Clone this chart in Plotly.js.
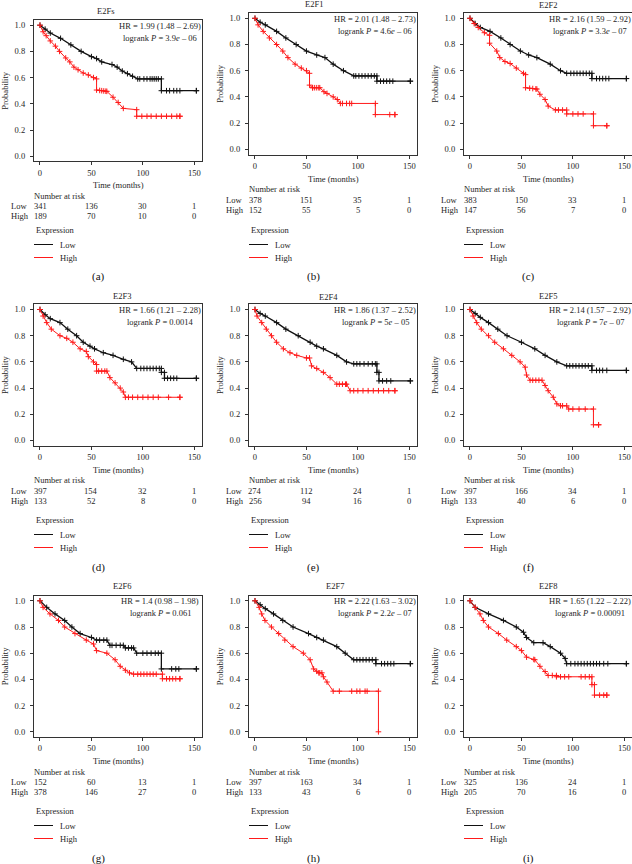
<!DOCTYPE html>
<html><head><meta charset="utf-8">
<script src="https://cdn.plot.ly/plotly-3.0.1.min.js"></script>
<style>html,body{margin:0;padding:0;background:#fff}#chart{width:632px;height:864px}</style>
</head><body><div id="chart"></div>
<script>
// ---------- data ----------
const panelNames = ['E2Fs','E2F1','E2F2','E2F3','E2F4','E2F5','E2F6','E2F7','E2F8'];
const panelLetters = ['(a)','(b)','(c)','(d)','(e)','(f)','(g)','(h)','(i)'];
const hrValues = ['1.99 (1.48 – 2.69)','2.01 (1.48 – 2.73)','2.16 (1.59 – 2.92)','1.66 (1.21 – 2.28)','1.86 (1.37 – 2.52)','2.14 (1.57 – 2.92)','1.4 (0.98 – 1.98)','2.22 (1.63 – 3.02)','1.65 (1.22 – 2.22)'];
const pValues = ['3.9<i>e</i> – 06','4.6<i>e</i> – 06','3.3<i>e</i> – 07','0.0014','5<i>e</i> – 05','7<i>e</i> – 07','0.061','2.2<i>e</i> – 07','0.00091'];
const riskTimes = [0,50,100,150];
const riskLow = [[341,136,30,1],[378,151,35,1],[383,150,33,1],[397,154,32,1],[274,112,24,1],[397,166,34,1],[152,60,13,1],[397,163,34,1],[325,136,24,1]];
const riskHigh = [[189,70,10,0],[152,55,5,0],[147,56,7,0],[133,52,8,0],[256,94,16,0],[133,40,6,0],[378,146,27,0],[133,43,6,0],[205,70,16,0]];
const xTicks = [0,50,100,150];
const yTicks = [0,0.2,0.4,0.6,0.8,1.0];

// survival curves: times (months), survival probability, censor times
const aLowT = [0,5,10,20,30,40,50,55,60,70,75,80,85,90,95,118,118,152];
const aLowS = [1,0.97,0.94,0.90,0.85,0.80,0.76,0.745,0.72,0.70,0.68,0.65,0.63,0.61,0.59,0.59,0.50,0.50];
const aLowC = [97,101,104,107,109,111,113,115,123,126,130,133,136,152];
const aHighT = [0,3,6,10,15,19,25,29,33,37,42,47,52,55,55,65,71,76,81,94,94,136];
const aHighS = [1,0.95,0.92,0.88,0.84,0.80,0.75,0.72,0.68,0.66,0.635,0.62,0.60,0.59,0.505,0.495,0.45,0.41,0.365,0.355,0.305,0.305];
const aHighC = [58,60,62,64,99,104,108,113,118,123,128,133,136];

const bLowT = [0,5,10,21,30,40,50,60,68,76,86,96,118.5,118.5,151];
const bLowS = [1,0.97,0.95,0.90,0.85,0.80,0.75,0.72,0.70,0.65,0.60,0.56,0.56,0.52,0.52];
const bLowC = [98,101,104,107,110,113,116,122,125,128,131,134,151];
const bHighT = [0,3,8,14,21,27,32,39,45,50,53,53,56,63,67,76,80,83,117,117,136];
const bHighS = [1,0.95,0.90,0.85,0.80,0.75,0.70,0.65,0.62,0.60,0.58,0.49,0.47,0.47,0.44,0.40,0.38,0.35,0.35,0.265,0.265];
const bHighC = [56,58,60,62,70,85,89,92,94,131,136];

const cLowT = [0,5,10,19.5,30,39,49,57,65,78,88,94,118.5,118.5,152];
const cLowS = [1,0.96,0.93,0.90,0.85,0.80,0.75,0.72,0.70,0.65,0.60,0.58,0.58,0.54,0.54];
const cLowC = [98,101,104,107,110,113,116,123,126,129,132,135,152];
const cHighT = [0,4,8,14,19,19,26,29,34,39,45,52,54,54,65,68,73,76,83,94,94,120,120,133];
const cHighS = [1,0.96,0.93,0.89,0.87,0.81,0.75,0.70,0.67,0.655,0.62,0.58,0.57,0.47,0.46,0.42,0.38,0.33,0.30,0.30,0.27,0.27,0.18,0.18];
const cHighC = [58,61,64,86,90,100,105,110,133];

const dLowT = [0,5,10,19.4,27,35.6,42,48.6,53,61.5,71,81,89,94,118,118,121,121,152];
const dLowS = [1,0.96,0.93,0.90,0.85,0.80,0.75,0.72,0.70,0.67,0.65,0.62,0.60,0.55,0.55,0.52,0.52,0.475,0.475];
const dLowC = [98,101,104,107,110,113,116,124,127,130,133,152];
const dHighT = [0,3,6.5,11,19.4,26,32,39,45,47,52,55,55,65,68,73,78,81,83,136];
const dHighS = [1,0.95,0.90,0.85,0.80,0.78,0.75,0.70,0.68,0.64,0.60,0.58,0.53,0.53,0.48,0.44,0.40,0.37,0.33,0.33];
const dHighC = [57,60,63,86,90,95,100,105,110,115,125,136];

const eLowT = [0,5,10,21,30,42,53.6,60,66.5,79.5,89,96,118.5,118.5,120.5,120.5,151];
const eLowS = [1,0.97,0.95,0.90,0.85,0.80,0.75,0.72,0.70,0.65,0.60,0.585,0.585,0.52,0.52,0.455,0.455];
const eLowC = [99,102,106,110,114,117,124,128,132,151];
const eHighT = [0,2,6.5,11,16,21,27.6,34,40.6,50,53,55,60,66.5,73,79.5,89,92.5,136];
const eHighS = [1,0.95,0.90,0.85,0.80,0.75,0.70,0.67,0.65,0.63,0.63,0.57,0.55,0.52,0.48,0.43,0.43,0.38,0.38];
const eHighC = [82,85,88,96,100,105,110,115,120,125,130,136];

const fLowT = [0,5,10,18,27,36,50,63,73,84.4,94,118.5,118.5,152];
const fLowS = [1,0.97,0.94,0.90,0.85,0.80,0.75,0.70,0.65,0.60,0.57,0.57,0.535,0.535];
const fLowC = [97,100,103,106,109,112,115,123,126,129,133,152];
const fHighT = [0,3,6.5,11,18,24,32.5,40.6,48.7,53.6,55,58.4,70,73,76,81,84.4,88,94,96,120,120,125];
const fHighS = [1,0.95,0.90,0.85,0.80,0.75,0.70,0.65,0.60,0.56,0.50,0.46,0.46,0.42,0.38,0.33,0.28,0.265,0.265,0.24,0.24,0.12,0.12];
const fHighC = [61,64,67,90,100,106,112,125];

const gLowT = [0,6.5,14.6,24,31,39,50,55,65,68,81,83,91,94,118,118,152];
const gLowS = [1,0.95,0.90,0.85,0.80,0.75,0.72,0.70,0.70,0.66,0.66,0.64,0.64,0.60,0.60,0.48,0.48];
const gLowC = [58,62,70,74,78,86,89,100,104,108,112,115,128,132,135,152];
const gHighT = [0,3,9.7,18,24,34,45,52,55,65,73,78,83,87,91,119,119,136];
const gHighS = [1,0.95,0.90,0.85,0.80,0.75,0.70,0.67,0.62,0.60,0.55,0.50,0.47,0.45,0.44,0.44,0.405,0.405];
const gHighC = [95,98,101,104,107,110,113,123,126,129,132,136];

const hLowT = [0,5,10,18,27,37,52,60,66.5,79.5,87.7,96,117.5,117.5,151];
const hLowS = [1,0.97,0.94,0.90,0.85,0.80,0.75,0.72,0.70,0.65,0.60,0.55,0.55,0.52,0.52];
const hLowC = [99,102,105,108,111,114,123,126,129,132,135,151];
const hHighT = [0,4,6.5,9.7,16,23,29,37,47,53.6,57,62,65,66.5,70,76,120,120];
const hHighS = [1,0.95,0.90,0.85,0.80,0.75,0.70,0.65,0.60,0.55,0.48,0.45,0.45,0.42,0.38,0.31,0.31,0];
const hHighC = [60,63,82,94,99,102,107,109];

const iLowT = [0,5,18,32.5,45,52,55,62,71,78,88,92.5,94,152];
const iLowS = [1,0.95,0.90,0.85,0.80,0.76,0.72,0.68,0.68,0.65,0.60,0.56,0.52,0.52];
const iLowC = [98,102,105,108,111,114,117,120,123,126,130,134,152];
const iHighT = [0,5,9.7,13,18,27.6,35.7,45,50,55,63,68,73,76,84,84,118.5,118.5,121,121,133];
const iHighS = [1,0.95,0.90,0.85,0.80,0.75,0.70,0.65,0.62,0.57,0.55,0.50,0.46,0.43,0.43,0.42,0.42,0.36,0.36,0.28,0.28];
const iHighC = [62,80,88,92,96,108,112,116,126,130,133];

const curves = [
  [aLowT,aLowS,aLowC,aHighT,aHighS,aHighC],
  [bLowT,bLowS,bLowC,bHighT,bHighS,bHighC],
  [cLowT,cLowS,cLowC,cHighT,cHighS,cHighC],
  [dLowT,dLowS,dLowC,dHighT,dHighS,dHighC],
  [eLowT,eLowS,eLowC,eHighT,eHighS,eHighC],
  [fLowT,fLowS,fLowC,fHighT,fHighS,fHighC],
  [gLowT,gLowS,gLowC,gHighT,gHighS,gHighC],
  [hLowT,hLowS,hLowC,hHighT,hHighS,hHighC],
  [iLowT,iLowS,iLowC,iHighT,iHighS,iHighC]
];

// ---------- layout geometry (pixels) ----------
const W = 632, H = 864;
const colX0 = [40, 255, 470];             // pixel of t=0
const rowY1 = [[25.2,18.3,18.3],[309.5,309.5,309.5],[600.8,600.8,600.8]]; // pixel of S=1
const legendY = [229.5, 520, 811];
const titlePos = [[105,11],[314,4],[548,5],[122,296],[328,297],[548,296],[122,586],[335,586],[548,586]];
const PXM = 154.3/150;  // px per month
const SPAN = 131;       // px per unit probability
const XR = [-6, 157], YR = [-0.04, 1.04];
const FONT = 'Liberation Serif, Times New Roman, serif';
const TXT = '#262626';
const LOWC = '#111111', HIGHC = '#ff1a1a';

function px(x){return x/W;}
function py(y){return 1 - y/H;}
function stepAt(T,S,c){
  let i = 0;
  for (let k=0;k<T.length;k++){ if (T[k] <= c) i = k; }
  if (i >= T.length-1) return S[S.length-1];
  const t0=T[i], t1=T[i+1];
  if (t1===t0) return S[i+1];
  return S[i] + (S[i+1]-S[i])*(c-t0)/(t1-t0);
}

const traces = [], annotations = [], shapes = [];
const layout = {
  width: W, height: H, margin:{l:0,r:0,t:0,b:0},
  paper_bgcolor:'#fff', plot_bgcolor:'#fff', showlegend:false,
  font:{family:FONT, size:8.5, color:TXT}
};

function ann(text,x,y,o){
  annotations.push(Object.assign({text:text, x:px(x), y:py(y), xref:'paper', yref:'paper',
    showarrow:false, xanchor:'center', yanchor:'middle', font:{family:FONT,size:8.5,color:TXT}}, o||{}));
}

for (let p=0;p<9;p++){
  const col = p%3, row = Math.floor(p/3);
  const x0 = colX0[col], y1 = rowY1[row][col];
  const L = x0 + XR[0]*PXM, R = x0 + XR[1]*PXM;
  const T = y1 - (YR[1]-1)*SPAN, B = y1 + (1-YR[0])*SPAN;
  const idx = p+1, sfx = idx===1 ? '' : String(idx);
  const common = {showline:true, mirror:true, linecolor:'#333', linewidth:1, zeroline:false, showgrid:false,
    ticks:'outside', ticklen:3, tickwidth:1, tickcolor:'#333', tickfont:{family:FONT,size:8.5,color:TXT}, fixedrange:true};
  layout['xaxis'+sfx] = Object.assign({}, common, {domain:[px(L),px(R)], range:XR, anchor:'y'+sfx,
    tickmode:'array', tickvals:xTicks, ticktext:xTicks.map(String)});
  layout['yaxis'+sfx] = Object.assign({}, common, {domain:[py(B),py(T)], range:YR, anchor:'x'+sfx,
    tickmode:'array', tickvals:yTicks, ticktext:yTicks.map(v=>v.toFixed(1)), ticklabelstandoff:3});

  const [lt,ls,lc,ht,hs,hc] = curves[p];
  const mk = (color)=>({symbol:'cross-thin-open', size:4, color:color, line:{color:color,width:1}});
  traces.push({x:lt, y:ls, xaxis:'x'+sfx, yaxis:'y'+sfx, mode:'lines+markers', line:{color:LOWC,width:1.3}, marker:mk(LOWC), hoverinfo:'skip'});
  traces.push({x:ht, y:hs, xaxis:'x'+sfx, yaxis:'y'+sfx, mode:'lines+markers', line:{color:HIGHC,width:1}, marker:mk(HIGHC), hoverinfo:'skip'});
  traces.push({x:lc, y:lc.map(c=>stepAt(lt,ls,c)), xaxis:'x'+sfx, yaxis:'y'+sfx, mode:'markers', marker:mk(LOWC), hoverinfo:'skip'});
  traces.push({x:hc, y:hc.map(c=>stepAt(ht,hs,c)), xaxis:'x'+sfx, yaxis:'y'+sfx, mode:'markers', marker:mk(HIGHC), hoverinfo:'skip'});

  // title
  ann(panelNames[p], titlePos[p][0], titlePos[p][1]);
  // HR / logrank
  ann('HR = '+hrValues[p], x0+120, y1+0.5);
  ann('logrank <i>P</i> = '+pValues[p], x0+120, y1+12.5);
  // y title
  ann('Probability', x0-35, y1+SPAN/2, {textangle:-90});
  // x title
  ann('Time (months)', x0+78, B+24);
  // risk table
  ann('Number at risk', x0-8, B+34.5, {xanchor:'left'});
  ann('Low', x0-31, B+45, {xanchor:'left'});
  ann('High', x0-31, B+55, {xanchor:'left'});
  for (let k=0;k<riskTimes.length;k++){
    ann(String(riskLow[p][k]), x0+riskTimes[k]*PXM, B+45);
    ann(String(riskHigh[p][k]), x0+riskTimes[k]*PXM, B+55);
  }
  // legend
  const LY = legendY[row];
  const l1 = Math.round(LY+14)+0.5, l2 = Math.round(LY+27)+0.5;
  ann('Expression', x0-6, LY, {xanchor:'left'});
  shapes.push({type:'line', xref:'paper', yref:'paper', x0:px(x0-6), x1:px(x0+13), y0:py(l1), y1:py(l1), line:{color:LOWC,width:1}});
  shapes.push({type:'line', xref:'paper', yref:'paper', x0:px(x0-6), x1:px(x0+13), y0:py(l2), y1:py(l2), line:{color:HIGHC,width:1}});
  ann('Low', x0+17.5, l1, {xanchor:'left'});
  ann('High', x0+17.5, l2, {xanchor:'left'});
  // caption
  ann(panelLetters[p], x0+58, LY+47.3, {font:{family:FONT,size:11,color:'#111'}});
}
layout.annotations = annotations;
layout.shapes = shapes;
Plotly.newPlot('chart', traces, layout, {staticPlot:true, displayModeBar:false});
</script></body></html>
